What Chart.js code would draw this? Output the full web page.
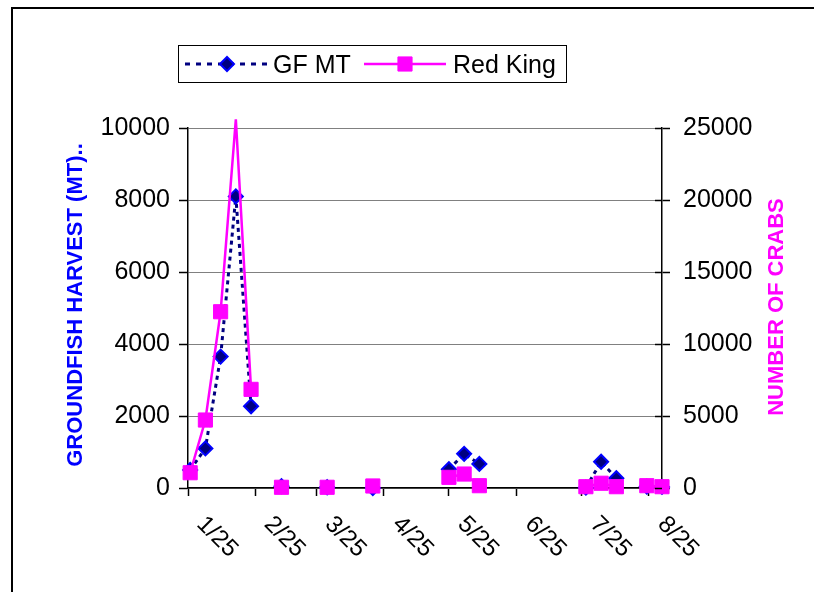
<!DOCTYPE html>
<html><head><meta charset="utf-8">
<script src="https://cdn.jsdelivr.net/npm/chart.js@4.4.1/dist/chart.umd.min.js"></script>
<style>html,body{margin:0;padding:0;background:#fff;}#wrap{width:814px;height:592px;}</style>
</head><body><div id="wrap"><canvas id="c" width="814" height="592"></canvas></div>
<script>
// ---- data ----
const sampleDates = ['1/26','2/2','2/9','2/16','2/23','3/2','3/9','3/16','3/23','3/30','4/6','4/13','4/20','4/27','5/4','5/11','5/18','5/25','6/1','6/8','6/15','6/22','6/29','7/6','7/13','7/20','7/27','8/3','8/10','8/17','8/24','8/31'];
const gfMT    = [500,1100,3650,8100,2270,null,50,null,null,20,null,null,0,null,null,null,null,520,950,670,null,null,null,null,null,null,10,730,270,null,40,30];
const redKing = [1060,4720,12240,25600,6850,null,50,null,null,50,null,null,140,null,null,null,null,740,970,160,null,null,null,null,null,null,90,330,90,null,160,90];
const axisTickDates = ['1/25','2/25','3/25','4/25','5/25','6/25','7/25','8/25'];
const axisStartDate = '1/25';
const axisEndDate = '8/31';
const seriesNames = ['GF MT','Red King'];
const leftTitle = 'GROUNDFISH HARVEST (MT)..';
const rightTitle = 'NUMBER OF CRABS';
const leftMax = 10000, leftStep = 2000, rightMax = 25000, rightStep = 5000;

const FONT = "'Liberation Sans', Arial, sans-serif";
function dayOf(md){const [m,d]=md.split('/').map(Number);const [m0,d0]=axisStartDate.split('/').map(Number);return (Date.UTC(2005,m-1,d)-Date.UTC(2005,m0-1,d0))/86400000;}
const xs = sampleDates.map(dayOf);
const tickDays = axisTickDates.map(dayOf);

const GF = {border:'#000080', fill:'#000080', edge:'#0000FF'};
const RK = '#FF00FF';

const decor = {
  id:'decor',
  afterDraw(chart){
    const ctx = chart.ctx, ca = chart.chartArea;
    const x = chart.scales.x, y1 = chart.scales.y1;
    ctx.save();
    // outer frame
    ctx.strokeStyle = '#000'; ctx.lineWidth = 2;
    ctx.strokeRect(12, 8, 900, 700);
    // right axis inner tick marks
    ctx.lineWidth = 1.5;
    y1.ticks.forEach(t => {
      const py = Math.round(y1.getPixelForValue(t.value)) + 0.5;
      ctx.beginPath(); ctx.moveTo(ca.right - 7, py); ctx.lineTo(ca.right, py); ctx.stroke();
    });
    // x labels rotated clockwise
    ctx.fillStyle = '#000'; ctx.font = '24px ' + FONT;
    ctx.textAlign = 'center'; ctx.textBaseline = 'middle';
    tickDays.forEach((d, i) => {
      const px = x.getPixelForValue(d) + 29;
      ctx.save(); ctx.translate(px, ca.bottom + 49); ctx.rotate(Math.PI/4);
      ctx.fillText(axisTickDates[i], 0, 0); ctx.restore();
    });
    // axis titles
    ctx.font = 'bold 22px ' + FONT;
    ctx.fillStyle = '#0000FF';
    ctx.save(); ctx.translate(76, (ca.top+ca.bottom)/2 - 3); ctx.rotate(-Math.PI/2);
    ctx.fillText(leftTitle, 0, 0); ctx.restore();
    ctx.fillStyle = RK;
    ctx.save(); ctx.translate(777, (ca.top+ca.bottom)/2 - 1); ctx.rotate(-Math.PI/2);
    ctx.fillText(rightTitle, 0, 0); ctx.restore();
    // legend
    ctx.strokeStyle = '#000'; ctx.lineWidth = 1;
    ctx.strokeRect(178.5, 45.5, 388, 37);
    const ly = 64;
    ctx.strokeStyle = GF.border; ctx.lineWidth = 3; ctx.setLineDash([5,6]);
    ctx.beginPath(); ctx.moveTo(185, ly); ctx.lineTo(269, ly); ctx.stroke();
    ctx.setLineDash([]);
    ctx.fillStyle = GF.fill; ctx.strokeStyle = GF.edge; ctx.lineWidth = 2;
    Chart.helpers.drawPoint(ctx, {pointStyle:'rectRot', radius:7, borderWidth:2, rotation:0}, 227, ly);
    ctx.strokeStyle = RK; ctx.lineWidth = 2.5;
    ctx.beginPath(); ctx.moveTo(364, ly); ctx.lineTo(446, ly); ctx.stroke();
    ctx.fillStyle = RK; ctx.strokeStyle = RK; ctx.lineWidth = 1;
    Chart.helpers.drawPoint(ctx, {pointStyle:'rect', radius:10, borderWidth:1, rotation:0}, 405, ly);
    ctx.fillStyle = '#000'; ctx.font = '25px ' + FONT; ctx.textAlign = 'left'; ctx.textBaseline = 'alphabetic';
    ctx.fillText(seriesNames[0], 273, 73);
    ctx.fillText(seriesNames[1], 453, 73);
    ctx.restore();
  }
};

const plain = v => String(v);

new Chart(document.getElementById('c'), {
  type: 'line',
  data: {
    datasets: [
      {
        label: seriesNames[0], yAxisID: 'y', order: 1,
        data: xs.map((d,i)=>({x:d, y:gfMT[i]})),
        borderColor: GF.border, borderWidth: 3, borderDash: [4,4],
        pointStyle: 'rectRot', pointRadius: 7, pointBorderWidth: 2,
        pointBackgroundColor: GF.fill, pointBorderColor: GF.edge,
        spanGaps: false, tension: 0, clip: false
      },
      {
        label: seriesNames[1], yAxisID: 'y1', order: 0,
        data: xs.map((d,i)=>({x:d, y:redKing[i]})),
        borderColor: RK, borderWidth: 2.5,
        pointStyle: 'rect',
        pointRadius: c => (c.raw && c.raw.y > rightMax) ? 0 : 10,
        pointBorderWidth: 1,
        pointBackgroundColor: RK, pointBorderColor: RK,
        spanGaps: false, tension: 0, clip: false
      }
    ]
  },
  options: {
    responsive: false, animation: false, devicePixelRatio: 1,
    layout: {padding: {left: 62, right: 25, top: 128, bottom: 0}},
    plugins: {legend: {display: false}, tooltip: {enabled: false}},
    scales: {
      x: {
        type: 'linear', min: 0, max: dayOf(axisEndDate),
        afterBuildTicks: s => { s.ticks = tickDays.map(v => ({value: v})); },
        afterFit: s => { s.height = 104; },
        ticks: {callback: () => '', autoSkip: false, maxRotation: 0, padding: 0},
        grid: {drawOnChartArea: false, drawTicks: true, tickLength: 8, tickColor: '#000', tickWidth: 1.5},
        border: {color: '#000', width: 1.5}
      },
      y: {
        position: 'left', min: 0, max: leftMax,
        ticks: {stepSize: leftStep, color: '#000', font: {family: FONT, size: 25}, padding: 9, callback: plain},
        afterFit: s => { s.width = 126; },
        grid: {color: '#808080', lineWidth: 1, tickLength: 9, tickColor: '#000', tickWidth: 1.5},
        border: {color: '#000', width: 1.5}
      },
      y1: {
        position: 'right', min: 0, max: rightMax,
        ticks: {stepSize: rightStep, color: '#000', font: {family: FONT, size: 25}, padding: 13, callback: plain},
        afterFit: s => { s.width = 127; },
        grid: {drawOnChartArea: false, tickLength: 8, tickColor: '#000', tickWidth: 1.5},
        border: {color: '#000', width: 1.5}
      }
    }
  },
  plugins: [decor]
});
</script></body></html>
